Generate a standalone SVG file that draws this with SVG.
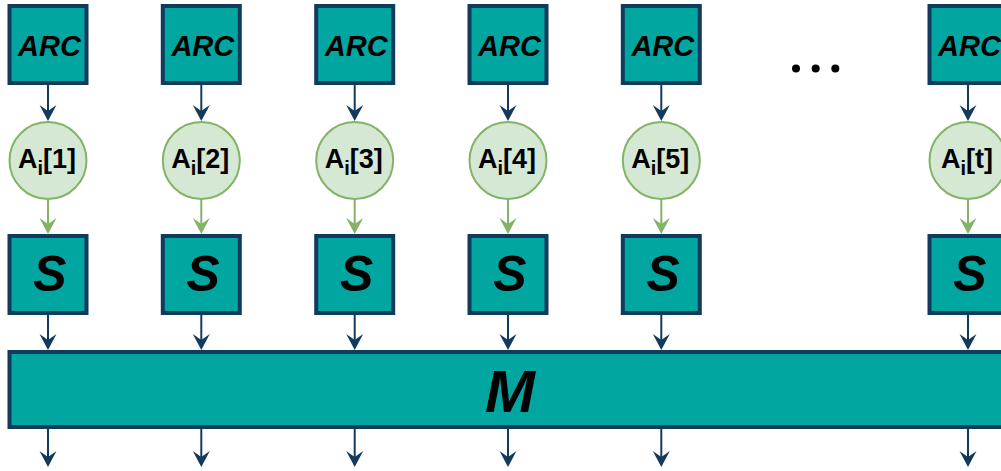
<svg xmlns="http://www.w3.org/2000/svg" width="1001" height="471" viewBox="0 0 1001 471">
  <style>
    .blk { fill: #02a6a1; stroke: #123a5c; stroke-width: 4; }
    .val { fill: #d5e8d4; stroke: #82b366; stroke-width: 2; }
    .lbl { font-family: "Liberation Sans", Arial, sans-serif; font-weight: bold; fill: #000; text-anchor: middle; }
    .it { font-style: italic; }
    .arc { font-size: 29px; }
    .sbox { font-size: 50px; }
    .mbox { font-size: 60px; }
    .ai { font-size: 27px; }
    .sub { font-size: 20px; }
    .dk { fill: none; stroke: #123a5c; stroke-width: 2; marker-end: url(#headDark); }
    .gr { fill: none; stroke: #82b366; stroke-width: 2; marker-end: url(#headGreen); }
  </style>
  <defs>
    <marker id="headDark" markerUnits="userSpaceOnUse" viewBox="-17 -9 18 18" markerWidth="18" markerHeight="18" refX="-10" refY="0" orient="auto">
      <path d="M0,0 L-16,-8.5 L-10,0 L-16,8.5 Z" fill="#123a5c"/>
    </marker>
    <marker id="headGreen" markerUnits="userSpaceOnUse" viewBox="-17 -9 18 18" markerWidth="18" markerHeight="18" refX="-10" refY="0" orient="auto">
      <path d="M0,0 L-16,-8.5 L-10,0 L-16,8.5 Z" fill="#82b366"/>
    </marker>
  </defs>

  <!-- connectors -->
  <g id="connectors">
    <!-- ARC -> A_i -->
    <line class="dk" x1="48" y1="85" x2="48" y2="111"/>
    <line class="dk" x1="201.3" y1="85" x2="201.3" y2="111"/>
    <line class="dk" x1="354.7" y1="85" x2="354.7" y2="111"/>
    <line class="dk" x1="508" y1="85" x2="508" y2="111"/>
    <line class="dk" x1="661.3" y1="85" x2="661.3" y2="111"/>
    <line class="dk" x1="968" y1="85" x2="968" y2="111"/>
    <!-- A_i -> S -->
    <line class="gr" x1="48" y1="199" x2="48" y2="224"/>
    <line class="gr" x1="201.3" y1="199" x2="201.3" y2="224"/>
    <line class="gr" x1="354.7" y1="199" x2="354.7" y2="224"/>
    <line class="gr" x1="508" y1="199" x2="508" y2="224"/>
    <line class="gr" x1="661.3" y1="199" x2="661.3" y2="224"/>
    <line class="gr" x1="968" y1="199" x2="968" y2="224"/>
    <!-- S -> M -->
    <line class="dk" x1="48" y1="315" x2="48" y2="340"/>
    <line class="dk" x1="201.3" y1="315" x2="201.3" y2="340"/>
    <line class="dk" x1="354.7" y1="315" x2="354.7" y2="340"/>
    <line class="dk" x1="508" y1="315" x2="508" y2="340"/>
    <line class="dk" x1="661.3" y1="315" x2="661.3" y2="340"/>
    <line class="dk" x1="968" y1="315" x2="968" y2="340"/>
    <!-- M outputs -->
    <line class="dk" x1="48" y1="429" x2="48" y2="457"/>
    <line class="dk" x1="201.3" y1="429" x2="201.3" y2="457"/>
    <line class="dk" x1="354.7" y1="429" x2="354.7" y2="457"/>
    <line class="dk" x1="508" y1="429" x2="508" y2="457"/>
    <line class="dk" x1="661.3" y1="429" x2="661.3" y2="457"/>
    <line class="dk" x1="968" y1="429" x2="968" y2="457"/>
  </g>

  <!-- ARC blocks -->
  <g id="arc1"><rect class="blk" x="9.5" y="6" width="77" height="77"/><text class="lbl it arc" x="49.5" y="56">ARC</text></g>
  <g id="arc2"><rect class="blk" x="162.8" y="6" width="77" height="77"/><text class="lbl it arc" x="202.8" y="56">ARC</text></g>
  <g id="arc3"><rect class="blk" x="316.2" y="6" width="77" height="77"/><text class="lbl it arc" x="356.2" y="56">ARC</text></g>
  <g id="arc4"><rect class="blk" x="469.5" y="6" width="77" height="77"/><text class="lbl it arc" x="509.5" y="56">ARC</text></g>
  <g id="arc5"><rect class="blk" x="622.8" y="6" width="77" height="77"/><text class="lbl it arc" x="662.8" y="56">ARC</text></g>
  <g id="arcT"><rect class="blk" x="929.5" y="6" width="77" height="77"/><text class="lbl it arc" x="969.5" y="56">ARC</text></g>

  <!-- ellipsis between columns -->
  <g id="ellipsis" fill="#000">
    <circle cx="796" cy="68.5" r="4"/>
    <circle cx="815.7" cy="68.5" r="4"/>
    <circle cx="835.3" cy="68.5" r="4"/>
  </g>

  <!-- A_i values -->
  <g id="a1"><circle class="val" cx="48" cy="160.5" r="38.5"/><text class="lbl ai" x="47" y="168">A<tspan class="sub" dy="7">i</tspan><tspan dy="-7">[1]</tspan></text></g>
  <g id="a2"><circle class="val" cx="201.3" cy="160.5" r="38.5"/><text class="lbl ai" x="200.3" y="168">A<tspan class="sub" dy="7">i</tspan><tspan dy="-7">[2]</tspan></text></g>
  <g id="a3"><circle class="val" cx="354.7" cy="160.5" r="38.5"/><text class="lbl ai" x="353.7" y="168">A<tspan class="sub" dy="7">i</tspan><tspan dy="-7">[3]</tspan></text></g>
  <g id="a4"><circle class="val" cx="508" cy="160.5" r="38.5"/><text class="lbl ai" x="507" y="168">A<tspan class="sub" dy="7">i</tspan><tspan dy="-7">[4]</tspan></text></g>
  <g id="a5"><circle class="val" cx="661.3" cy="160.5" r="38.5"/><text class="lbl ai" x="660.3" y="168">A<tspan class="sub" dy="7">i</tspan><tspan dy="-7">[5]</tspan></text></g>
  <g id="aT"><circle class="val" cx="968" cy="160.5" r="38.5"/><text class="lbl ai" x="967" y="168">A<tspan class="sub" dy="7">i</tspan><tspan dy="-7">[t]</tspan></text></g>

  <!-- S blocks -->
  <g id="s1"><rect class="blk" x="9.5" y="236" width="77" height="77"/><text class="lbl it sbox" x="50" y="291">S</text></g>
  <g id="s2"><rect class="blk" x="162.8" y="236" width="77" height="77"/><text class="lbl it sbox" x="203.3" y="291">S</text></g>
  <g id="s3"><rect class="blk" x="316.2" y="236" width="77" height="77"/><text class="lbl it sbox" x="356.7" y="291">S</text></g>
  <g id="s4"><rect class="blk" x="469.5" y="236" width="77" height="77"/><text class="lbl it sbox" x="510" y="291">S</text></g>
  <g id="s5"><rect class="blk" x="622.8" y="236" width="77" height="77"/><text class="lbl it sbox" x="663.3" y="291">S</text></g>
  <g id="sT"><rect class="blk" x="929.5" y="236" width="77" height="77"/><text class="lbl it sbox" x="970" y="291">S</text></g>

  <!-- M block -->
  <g id="m"><rect class="blk" x="9.5" y="352" width="1000" height="75"/><text class="lbl it mbox" x="510" y="412">M</text></g>
</svg>
